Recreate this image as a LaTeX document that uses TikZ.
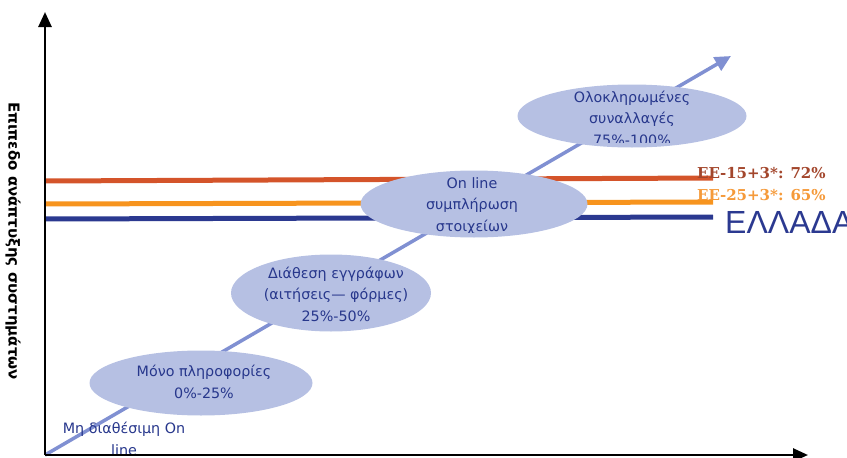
\documentclass[tikz,border=0pt]{standalone}
\usepackage{fontspec}
\setmainfont{DejaVu Sans}
\newfontfamily\labserif{DejaVu Serif}
\newfontfamily\labsans{Liberation Sans}
\usetikzlibrary{shapes.geometric,arrows.meta}
\definecolor{blobfill}{HTML}{B6C0E3}
\definecolor{diagcol}{HTML}{8090D2}
\definecolor{txtblue}{HTML}{27378C}
\definecolor{redline}{HTML}{D4542A}
\definecolor{orangeline}{HTML}{F7941E}
\definecolor{blueline}{HTML}{2B3990}
\definecolor{redlab}{HTML}{A3462C}
\definecolor{orangelab}{HTML}{F59A3A}
\begin{document}
\begin{tikzpicture}[x=1pt,y=-1pt,
  blob/.style={ellipse,fill=blobfill,draw=none,inner sep=0pt},
  etext/.style={align=center,text=txtblue,inner sep=0pt,font=\fontsize{14.3}{21.5}\selectfont},
  level/.style={line width=5pt},
  axisline/.style={line width=2.6pt,-{Triangle[length=15pt,width=13pt]}},
  diagline/.style={line width=3.5pt,diagcol,-{Triangle[length=16pt,width=15pt]}},
  eelab/.style={anchor=base west,inner sep=0pt,font=\labserif\bfseries\fontsize{15}{18}\selectfont}]
\useasboundingbox (0,0) rectangle (847,458);
% coordinates
\coordinate (O) at (45,455);
\coordinate (ytop) at (45,12);
\coordinate (xend) at (808,455);
\coordinate (dtip) at (731,56);
\coordinate (r0) at (45,181);
\coordinate (r1) at (713,178);
\coordinate (o0) at (45,204);
\coordinate (o1) at (713,202);
\coordinate (b0) at (45,219);
\coordinate (b1) at (713,217);
% level lines
\draw[level,redline] (r0) -- (r1);
\draw[level,orangeline] (o0) -- (o1);
\draw[level,blueline] (b0) -- (b1);
% diagonal arrow
\draw[diagline] (O) -- (dtip);
% ellipses
\node[blob,minimum width=223pt,minimum height=65pt] (e1) at (201,383) {};
\node[blob,minimum width=200pt,minimum height=77pt] (e2) at (331,293) {};
\node[blob,minimum width=227pt,minimum height=67pt] (e3) at (474,204) {};
\node[blob,minimum width=229pt,minimum height=63pt] (e4) at (632,116) {};
% ellipse texts
\node[etext] (t1) at (204,382) {Μόνο πληροφορίες\\0\%-25\%};
\node[etext] (t2) at (336,294) {Διάθεση εγγράφων\\(αιτήσεις— φόρμες)\\25\%-50\%};
\begin{scope}
\clip (340,160) rectangle (600,232);
\node[etext] (t3) at (472,206) {On line\\συμπλήρωση\\στοιχείων};
\end{scope}
\begin{scope}
\clip (500,70) rectangle (760,142);
\node[etext] (t4) at (632,118) {Ολοκληρωμένες\\συναλλαγές\\75\%-100\%};
\end{scope}
% bottom label
\node[etext] (t0) at (124,439) {Μη διαθέσιμη On\\line};
% right labels
\node[eelab,text=redlab] (l15) at (697,178) {ΕΕ-15+3*: 72\%};
\node[eelab,text=orangelab] (l25) at (697,200) {ΕΕ-25+3*: 65\%};
\node[anchor=base west,inner sep=0pt,text=blueline,font=\labsans\fontsize{32}{36}\selectfont] (gr) at (725,233) {ΕΛΛΑΔΑ};
% y label
\node[rotate=-90,inner sep=0pt,font=\bfseries\fontsize{15}{17}\selectfont] (ylab) at (13,241) {Επιπεδο ανάπτυξης συστημάτων};
% axes
\draw[axisline] (O) -- (ytop);
\draw[axisline] (O) -- (xend);
\end{tikzpicture}
\end{document}
